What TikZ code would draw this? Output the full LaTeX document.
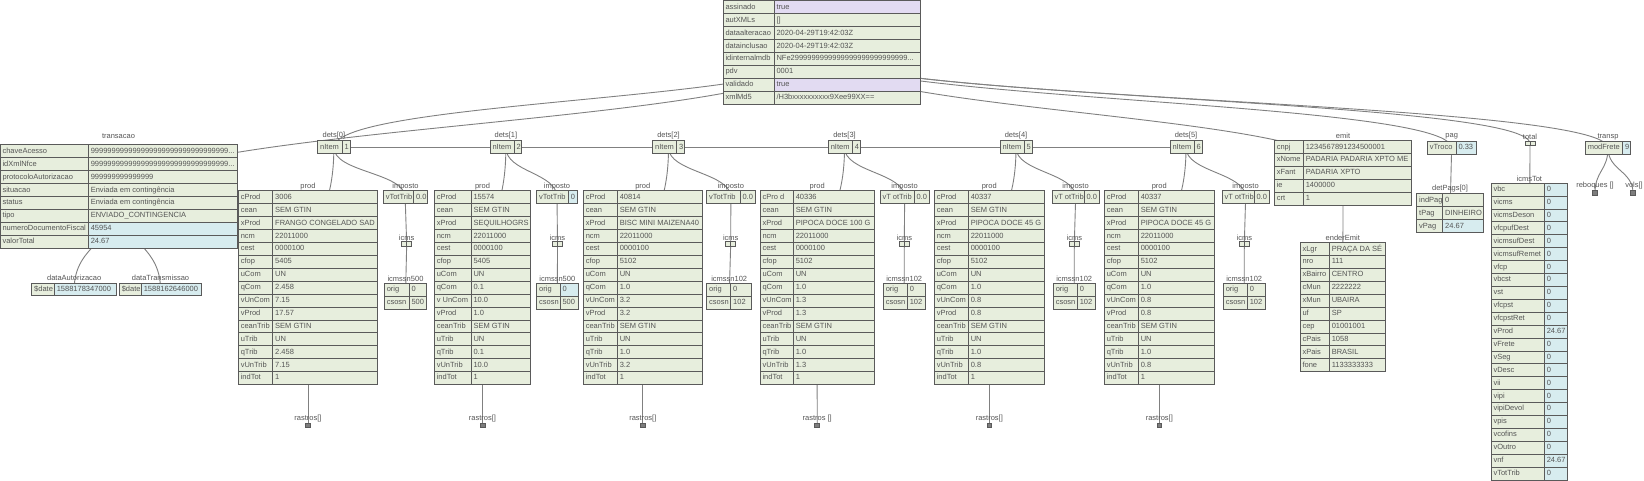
\documentclass[tikz,border=0pt]{standalone}
\usepackage{fontspec}
\setmainfont{Liberation Sans}
\usetikzlibrary{calc,backgrounds}
\definecolor{cg}{RGB}{231,238,221}
\definecolor{cb}{RGB}{215,236,239}
\definecolor{cl}{RGB}{226,219,242}
\definecolor{bd}{RGB}{90,90,90}
\definecolor{tx}{RGB}{85,85,85}
\definecolor{lk}{RGB}{128,128,128}
\definecolor{sq}{RGB}{125,125,125}
\def\rh{12.9}
\newcommand{\tdots}{...}
\tikzset{
  cell/.style={draw=bd,line width=1pt,rectangle,inner xsep=2.5pt,inner ysep=0pt,outer sep=0pt,minimum height=\rh pt,text height=5.4pt,text depth=1.6pt,font=\fontsize{7.5}{9}\selectfont,text=tx},
  ttl/.style={inner sep=0pt,font=\fontsize{7.5}{9}\selectfont,text=tx},
  lnkst/.style={draw=lk,line width=0.9pt},
  sqm/.style={draw=bd,fill=sq,line width=0.8pt,minimum width=4.8pt,minimum height=4.6pt,inner sep=0pt,outer sep=0pt},
  halfc/.style={draw=bd,fill=cg,line width=0.8pt,minimum width=5pt,minimum height=4.4pt,inner sep=0pt,outer sep=0pt}
}
% name, x0, x1, x2, ytop, rows
\newcommand{\kvt}[6]{%
  \pgfmathsetmacro\wk{#3-#2}\pgfmathsetmacro\wkt{\wk-5}%
  \pgfmathsetmacro\wv{#4-#3}\pgfmathsetmacro\wvt{\wv-5}%
  \foreach [count=\i] \kk/\vv/\fc in {#6} {
    \pgfmathsetmacro\yt{#5+(\i-1)*\rh}
    \node[cell,fill=cg,minimum width=\wk pt,anchor=north west] (#1-\i-k) at (#2,\yt) {\makebox[\wkt pt][l]{\kk}};
    \node[cell,fill=\fc,minimum width=\wv pt,anchor=north west] (#1-\i-v) at (#3,\yt) {\makebox[\wvt pt][l]{\vv}};
    \xdef\nrows{\i}
  }
  \coordinate (#1) at ({(#2+#4)/2},{#5+\nrows*\rh/2});
}
\newcommand{\pairb}[3]{%
  \node[halfc,anchor=east] (#1-a) at (#2,#3) {};
  \node[halfc,anchor=west] (#1-b) at (#2,#3) {};
  \coordinate (#1) at (#2,#3);
}
\newcommand{\lnk}[2]{\draw[lnkst] let \p1=(#1), \p2=(#2) in (\p1) .. controls (\x1,{(\y1+\y2)/2}) and (\x2,{(\y1+\y2)/2}) .. (\p2);}
\begin{document}
\begin{tikzpicture}[x=1pt,y=-1pt]
\useasboundingbox (0,0) rectangle (1644,481);
% root
\kvt{root}{723}{774}{920}{1}{assinado/true/cl,autXMLs/{[]}/cg,dataalteracao/2020-04-29T19:42:03Z/cg,datainclusao/2020-04-29T19:42:03Z/cg,idinternalmdb/NFe2999999999999999999999999999\tdots/cg,pdv/0001/cg,validado/true/cl,xmlMd5/{/H3bxxxxxxxxxx9Xee99XX==}/cg}
% transacao
\node[ttl] (trans-t) at (118.5,136) {transacao};
\kvt{trans}{0}{88.3}{237}{145}{chaveAcesso/999999999999999999999999999999999\tdots/cg,idXmlNfce/999999999999999999999999999999999\tdots/cg,protocoloAutorizacao/999999999999999/cg,situacao/Enviada em contingência/cg,status/Enviada em contingência/cg,tipo/ENVIADO\_CONTINGENCIA/cg,numeroDocumentoFiscal/45954/cb,valorTotal/24.67/cb}
\node[ttl] (dA-t) at (74.2,277.5) {dataAutorizacao};
\kvt{dA}{31.7}{54.3}{116.7}{283}{\$date/1588178347000/cb}
\node[ttl] (dT-t) at (160.5,277.5) {dataTransmissao};
\kvt{dT}{119.3}{141.3}{201.7}{283}{\$date/1588162646000/cb}
% dets
\node[ttl] (d0-t) at (333.9,136) {dets[0]};
\kvt{d0}{317.7}{342}{350}{141}{nItem/1/cg}
\node[ttl] (d1-t) at (505.9,136) {dets[1]};
\kvt{d1}{490}{514}{521.7}{141}{nItem/2/cg}
\node[ttl] (d2-t) at (668.5,136) {dets[2]};
\kvt{d2}{652.7}{676.7}{684.3}{141}{nItem/3/cg}
\node[ttl] (d3-t) at (844.5,136) {dets[3]};
\kvt{d3}{828.3}{852.3}{860.7}{141}{nItem/4/cg}
\node[ttl] (d4-t) at (1016,136) {dets[4]};
\kvt{d4}{1000}{1024}{1032}{141}{nItem/5/cg}
\node[ttl] (d5-t) at (1186,136) {dets[5]};
\kvt{d5}{1170}{1194}{1202}{141}{nItem/6/cg}
% prod tables
\node[ttl] (p0-t) at (308,186.5) {prod};
\kvt{p0}{238.3}{272.7}{377.7}{191}{cProd/3006/cg,cean/SEM GTIN/cg,xProd/FRANGO CONGELADO SAD/cg,ncm/22011000/cg,cest/0000100/cg,cfop/5405/cg,uCom/UN/cg,qCom/2.458/cg,vUnCom/7.15/cg,vProd/17.57/cg,ceanTrib/SEM GTIN/cg,uTrib/UN/cg,qTrib/2.458/cg,vUnTrib/7.15/cg,indTot/1/cg}
\node[ttl] (p1-t) at (482.5,186.5) {prod};
\kvt{p1}{434.3}{471}{530.7}{191}{cProd/15574/cg,cean/SEM GTIN/cg,xProd/SEQUILHOGRS/cg,ncm/22011000/cg,cest/0000100/cg,cfop/5405/cg,uCom/UN/cg,qCom/0.1/cg,v UnCom/10.0/cg,vProd/1.0/cg,ceanTrib/SEM GTIN/cg,uTrib/UN/cg,qTrib/0.1/cg,vUnTrib/10.0/cg,indTot/1/cg}
\node[ttl] (p2-t) at (642.8,186.5) {prod};
\kvt{p2}{583.3}{617.3}{702.3}{191}{cProd/40814/cg,cean/SEM GTIN/cg,xProd/BISC MINI MAIZENA40/cg,ncm/22011000/cg,cest/0000100/cg,cfop/5102/cg,uCom/UN/cg,qCom/1.0/cg,vUnCom/3.2/cg,vProd/3.2/cg,ceanTrib/SEM GTIN/cg,uTrib/UN/cg,qTrib/1.0/cg,vUnTrib/3.2/cg,indTot/1/cg}
\node[ttl] (p3-t) at (817.2,186.5) {prod};
\kvt{p3}{760}{793.3}{874.3}{191}{cPro d/40336/cg,cean/SEM GTIN/cg,xProd/PIPOCA DOCE 100 G/cg,ncm/22011000/cg,cest/0000100/cg,cfop/5102/cg,uCom/UN/cg,qCom/1.0/cg,vUnCom/1.3/cg,vProd/1.3/cg,ceanTrib/SEM GTIN/cg,uTrib/UN/cg,qTrib/1.0/cg,vUnTrib/1.3/cg,indTot/1/cg}
\node[ttl] (p4-t) at (989.3,186.5) {prod};
\kvt{p4}{934.3}{968.3}{1044.3}{191}{cProd/40337/cg,cean/SEM GTIN/cg,xProd/PIPOCA DOCE 45 G/cg,ncm/22011000/cg,cest/0000100/cg,cfop/5102/cg,uCom/UN/cg,qCom/1.0/cg,vUnCom/0.8/cg,vProd/0.8/cg,ceanTrib/SEM GTIN/cg,uTrib/UN/cg,qTrib/1.0/cg,vUnTrib/0.8/cg,indTot/1/cg}
\node[ttl] (p5-t) at (1159.3,186.5) {prod};
\kvt{p5}{1104.3}{1138.3}{1214.3}{191}{cProd/40337/cg,cean/SEM GTIN/cg,xProd/PIPOCA DOCE 45 G/cg,ncm/22011000/cg,cest/0000100/cg,cfop/5102/cg,uCom/UN/cg,qCom/1.0/cg,vUnCom/0.8/cg,vProd/0.8/cg,ceanTrib/SEM GTIN/cg,uTrib/UN/cg,qTrib/1.0/cg,vUnTrib/0.8/cg,indTot/1/cg}
% rastros
\node[ttl] (r0-t) at (308,419) {rastros[]};
\node[sqm] (r0) at (308,425.3) {};
\node[ttl] (r1-t) at (482.5,419) {rastros[]};
\node[sqm] (r1) at (482.5,425.3) {};
\node[ttl] (r2-t) at (642.8,419) {rastros[]};
\node[sqm] (r2) at (642.8,425.3) {};
\node[ttl] (r3-t) at (817.2,419) {rastros []};
\node[sqm] (r3) at (817.2,425.3) {};
\node[ttl] (r4-t) at (989.3,419) {rastros[]};
\node[sqm] (r4) at (989.3,425.3) {};
\node[ttl] (r5-t) at (1159.3,419) {rastros[]};
\node[sqm] (r5) at (1159.3,425.3) {};
% imposto
\node[ttl] (im0-t) at (405.5,186.5) {imposto};
\kvt{im0}{383.3}{413.5}{427}{191}{vTotTrib/0.0/cg}
\node[ttl] (im1-t) at (557,186.5) {imposto};
\kvt{im1}{536.7}{568.3}{577.3}{191}{vTotTrib/0/cb}
\node[ttl] (im2-t) at (730.8,186.5) {imposto};
\kvt{im2}{706.7}{740}{755}{191}{vTotTrib/0.0/cg}
\node[ttl] (im3-t) at (904.6,186.5) {imposto};
\kvt{im3}{880}{914}{929.3}{191}{vT otTrib/0.0/cg}
\node[ttl] (im4-t) at (1075.6,186.5) {imposto};
\kvt{im4}{1052}{1084}{1099.3}{191}{vT otTrib/0.0/cg}
\node[ttl] (im5-t) at (1245.6,186.5) {imposto};
\kvt{im5}{1222}{1254}{1269.3}{191}{vT otTrib/0.0/cg}
% icms
\node[ttl] (ic0-t) at (406.7,237.5) {icms};
\pairb{ic0}{406.7}{243.9}
\node[ttl] (ic1-t) at (557.5,237.5) {icms};
\pairb{ic1}{557.5}{243.9}
\node[ttl] (ic2-t) at (730.7,237.5) {icms};
\pairb{ic2}{730.7}{243.9}
\node[ttl] (ic3-t) at (904.3,237.5) {icms};
\pairb{ic3}{904.3}{243.9}
\node[ttl] (ic4-t) at (1074.3,237.5) {icms};
\pairb{ic4}{1074.3}{243.9}
\node[ttl] (ic5-t) at (1244.3,237.5) {icms};
\pairb{ic5}{1244.3}{243.9}
% icmssn
\node[ttl] (sn0-t) at (405.5,279) {icmssn500};
\kvt{sn0}{384.3}{409}{426.7}{283.3}{orig/0/cg,csosn/500/cg}
\node[ttl] (sn1-t) at (557.3,279) {icmssn500};
\kvt{sn1}{536.7}{560}{578}{283.3}{orig/0/cb,csosn/500/cg}
\node[ttl] (sn2-t) at (729.2,279) {icmssn102};
\kvt{sn2}{706.7}{730.7}{751.7}{283.3}{orig/0/cg,csosn/102/cg}
\node[ttl] (sn3-t) at (904.2,279) {icmssn102};
\kvt{sn3}{883.3}{907.3}{925}{283.3}{orig/0/cg,csosn/102/cg}
\node[ttl] (sn4-t) at (1074.2,279) {icmssn102};
\kvt{sn4}{1053.3}{1077.3}{1095}{283.3}{orig/0/cg,csosn/102/cg}
\node[ttl] (sn5-t) at (1244.2,279) {icmssn102};
\kvt{sn5}{1223.3}{1247.3}{1265}{283.3}{orig/0/cg,csosn/102/cg}
% emit
\node[ttl] (emit-t) at (1343,136) {emit};
\kvt{emit}{1274.3}{1303.3}{1411.7}{140.7}{cnpj/1234567891234500001/cg,xNome/PADARIA PADARIA XPTO ME/cg,xFant/PADARIA XPTO/cg,ie/1400000/cg,crt/1/cg}
\node[ttl] (ender-t) at (1342.8,238.2) {enderEmit};
\kvt{ender}{1300}{1329.3}{1385.7}{242.7}{xLgr/PRAÇA DA SÉ/cg,nro/111/cg,xBairro/CENTRO/cg,cMun/2222222/cg,xMun/UBAIRA/cg,uf/SP/cg,cep/01001001/cg,cPais/1058/cg,xPais/BRASIL/cg,fone/1133333333/cg}
% pag
\node[ttl] (pag-t) at (1451.7,136.5) {pag};
\kvt{pag}{1427.3}{1456}{1476}{141.5}{vTroco/0.33/cb}
\node[ttl] (detp-t) at (1450,188.5) {detPags[0]};
\kvt{detp}{1416.7}{1442.7}{1483.3}{194}{indPag/0/cg,tPag/DINHEIRO/cg,vPag/24.67/cb}
% total
\node[ttl] (total-t) at (1530,136.5) {total};
\pairb{total}{1530}{143.7}
\node[ttl] (itot-t) at (1529.3,178.8) {icmsTot};
\kvt{itot}{1491}{1544.3}{1567.7}{183.3}{vbc/0/cb,vicms/0/cb,vicmsDeson/0/cb,vfcpufDest/0/cb,vicmsufDest/0/cb,vicmsufRemet/0/cb,vfcp/0/cb,vbcst/0/cb,vst/0/cb,vfcpst/0/cb,vfcpstRet/0/cb,vProd/24.67/cb,vFrete/0/cb,vSeg/0/cb,vDesc/0/cb,vii/0/cb,vipi/0/cb,vipiDevol/0/cb,vpis/0/cb,vcofins/0/cb,vOutro/0/cb,vnf/24.67/cb,vTotTrib/0/cb}
% transp
\node[ttl] (transp-t) at (1608,136.5) {transp};
\kvt{transp}{1585.3}{1622.7}{1630.7}{141.5}{modFrete/9/cb}
\node[ttl] (reb-t) at (1595,185.7) {reboques []};
\node[sqm] (reb) at (1595,193.2) {};
\node[ttl] (vols-t) at (1634,185.7) {vols[]};
\node[sqm] (vols) at (1633,193.2) {};
% links
\begin{pgfonlayer}{background}
\fill[white] (0,0) rectangle (1644,481);
\lnk{root}{trans}
\lnk{root}{d0}
\lnk{d0}{d1}\lnk{d0}{d2}\lnk{d0}{d3}\lnk{d0}{d4}\lnk{d0}{d5}
\lnk{root}{emit}
\lnk{root}{pag}
\lnk{root}{total}
\lnk{root}{transp}
\lnk{trans}{dA}
\lnk{trans}{dT}
\foreach \jj in {0,...,5}{
  \lnk{d\jj}{p\jj}
  \lnk{d\jj}{im\jj}
  \lnk{im\jj}{ic\jj}
  \lnk{ic\jj}{sn\jj}
  \lnk{p\jj}{r\jj}
}
\lnk{emit}{ender}
\lnk{pag}{detp}
\lnk{total}{itot}
\lnk{transp}{reb}
\lnk{transp}{vols}
\end{pgfonlayer}
\end{tikzpicture}
\end{document}
